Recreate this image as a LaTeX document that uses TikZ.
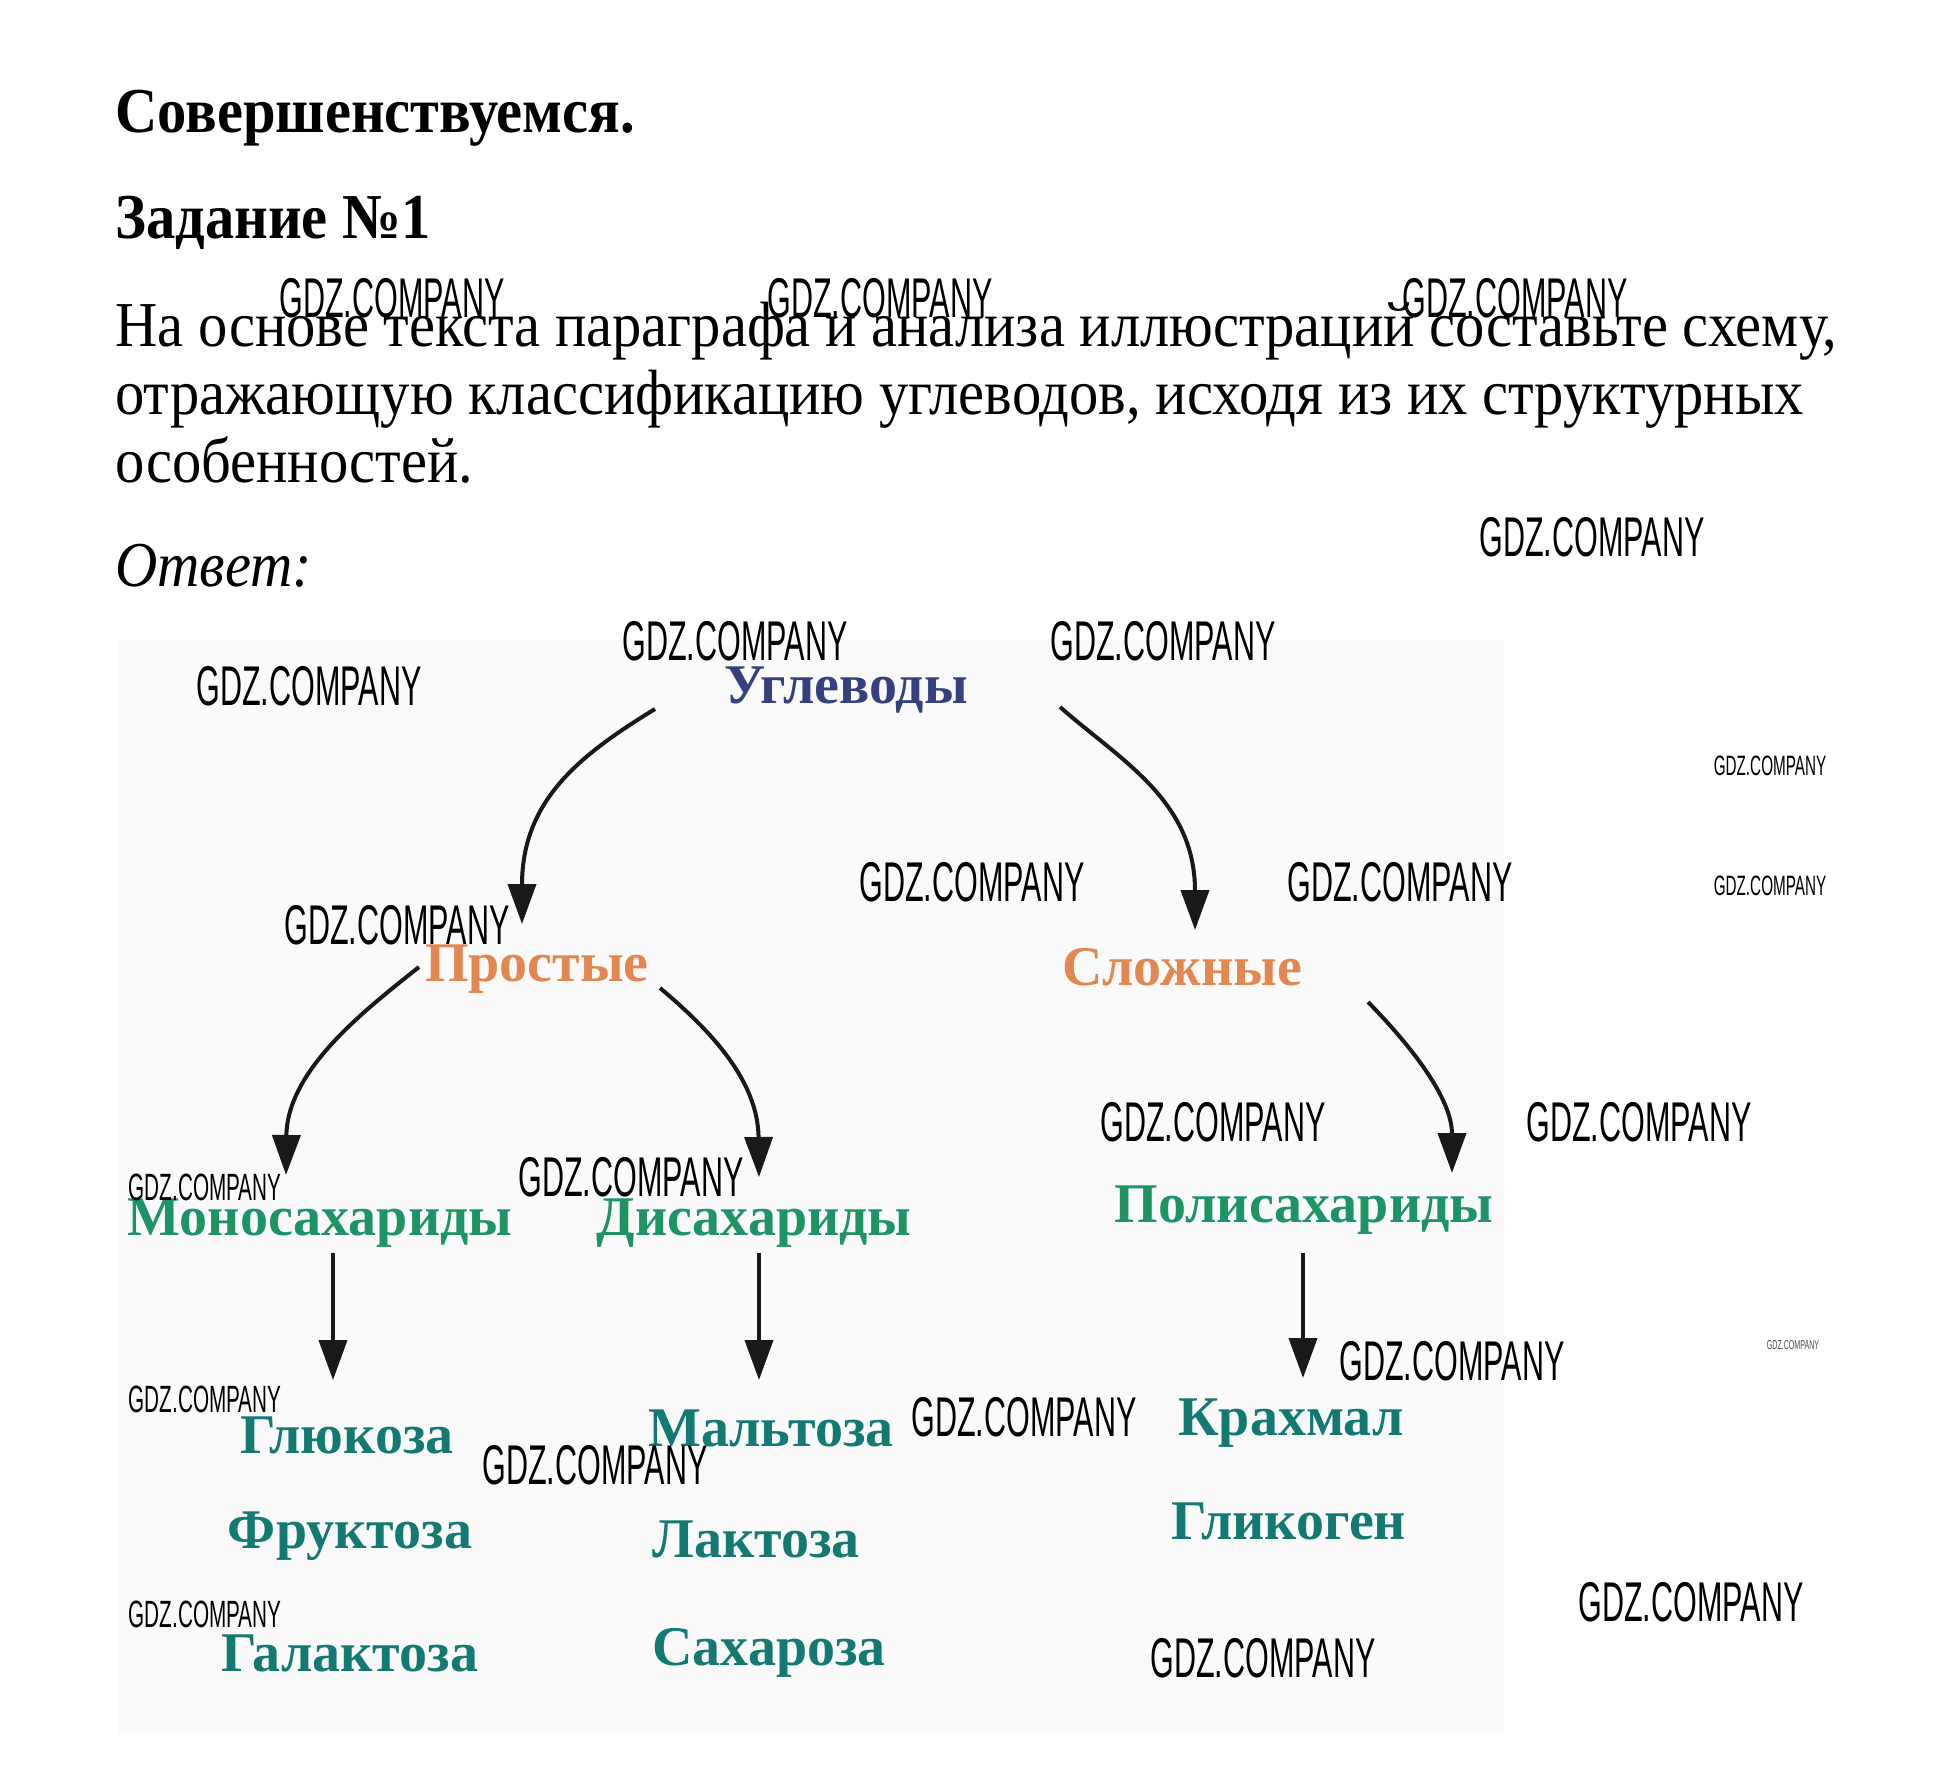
\documentclass[tikz,border=0pt]{standalone}
\usepackage{fontspec}
\setmainfont{Liberation Serif}
\newfontfamily\bodyfont[FakeStretch=0.915]{Liberation Serif}
\newfontfamily\diagfont{Liberation Serif}
\newfontfamily\wmfont[FakeStretch=0.545]{Liberation Sans}
\usetikzlibrary{arrows.meta}
\definecolor{cblue}{HTML}{36407F}
\definecolor{corange}{HTML}{E2874F}
\definecolor{cgreen}{HTML}{1E9465}
\definecolor{cteal}{HTML}{137A73}
\definecolor{diagbg}{HTML}{FAFAFA}
\tikzset{
  hdr/.style={anchor=base west, inner sep=0pt, font=\bodyfont\bfseries\fontsize{32}{36}\selectfont},
  para/.style={anchor=base west, inner sep=0pt, font=\bodyfont\fontsize{32}{36}\selectfont},
  dnode/.style={inner sep=0pt, font=\diagfont\bfseries\fontsize{28}{32}\selectfont},
  lvl0/.style={dnode, text=cblue},
  lvl1/.style={dnode, text=corange},
  lvl2/.style={dnode, text=cgreen},
  lvl3/.style={dnode, text=cteal},
  arr/.style={line width=2pt, draw=black!90, -{Triangle[length=20pt,width=14pt]}},
  wmL/.style={inner sep=0pt, font=\wmfont\fontsize{28}{30}\selectfont},
  wmM/.style={inner sep=0pt, font=\wmfont\fontsize{19}{21}\selectfont},
  wmS/.style={inner sep=0pt, font=\wmfont\fontsize{14}{16}\selectfont},
  wmT/.style={inner sep=0pt, font=\wmfont\fontsize{6.5}{7}\selectfont, text=black!70},
}
\begin{document}
\begin{tikzpicture}[x=0.5pt,y=0.5pt]
\useasboundingbox (0,0) rectangle (1944,-1765);
\fill[white] (0,0) rectangle (1944,-1765);
\fill[diagbg] (118,-640) rectangle (1504,-1735);

% header texts
\node[hdr] (title) at (115,-133) {Совершенствуемся.};
\node[hdr] (task) at (115,-239) {Задание №1};
\node[para] (p1) at (115,-347) {На основе текста параграфа и анализа иллюстраций составьте схему,};
\node[para] (p2) at (115,-415) {отражающую классификацию углеводов, исходя из их структурных};
\node[para] (p3) at (115,-482) {особенностей.};
\node[para, font=\bodyfont\itshape\fontsize{32}{36}\selectfont] (ans) at (115,-586) {Ответ:};

% diagram nodes
\node[lvl0] (ugl) at (846,-690) {Углеводы};
\node[lvl1] (pro) at (537,-969) {Простые};
\node[lvl1] (slo) at (1182,-967) {Сложные};
\node[lvl2] (mono) at (320,-1223) {Моносахариды};
\node[lvl2] (di) at (754,-1223) {Дисахариды};
\node[lvl2] (poli) at (1304,-1210) {Полисахариды};
\node[lvl3] (glu) at (347,-1435) {Глюкоза};
\node[lvl3] (fru) at (350,-1536) {Фруктоза};
\node[lvl3] (gal) at (350,-1653) {Галактоза};
\node[lvl3] (mal) at (771,-1428) {Мальтоза};
\node[lvl3] (lak) at (756,-1539) {Лактоза};
\node[lvl3] (sah) at (769,-1653) {Сахароза};
\node[lvl3] (kra) at (1291,-1423) {Крахмал};
\node[lvl3] (gli) at (1289,-1521) {Гликоген};

% connectors
\draw[arr] ([shift={(-191,-19)}]ugl.center) .. controls +(-75,-46) and +(0,124) .. ([shift={(-15,45)}]pro.center);
\draw[arr] ([shift={(214,-17)}]ugl.center) .. controls +(60,-53) and +(0,130) .. ([shift={(13,37)}]slo.center);
\draw[arr] ([shift={(-118,2)}]pro.center) .. controls +(-54,-43) and +(1,105) .. ([shift={(-34,48)}]mono.center);
\draw[arr] ([shift={(123,-19)}]pro.center) .. controls +(50,-42) and +(-1,97) .. ([shift={(5,46)}]di.center);
\draw[arr] ([shift={(186,-35)}]slo.center) .. controls +(47,-48) and +(0,73) .. ([shift={(148,37)}]poli.center);
\draw[arr] ([shift={(13,-30)}]mono.center) -- ([shift={(-14,55)}]glu.center);
\draw[arr] ([shift={(5,-30)}]di.center) -- ([shift={(-12,48)}]mal.center);
\draw[arr] ([shift={(-1,-43)}]poli.center) -- ([shift={(12,45)}]kra.center);

% watermarks
\node[wmL] (w1) at (392,-298) {GDZ.COMPANY};
\node[wmL] (w2) at (880,-298) {GDZ.COMPANY};
\node[wmL] (w3) at (1515,-298) {GDZ.COMPANY};
\node[wmL] (w4) at (1592,-537) {GDZ.COMPANY};
\node[wmL] (w5) at (735,-641) {GDZ.COMPANY};
\node[wmL] (w6) at (1163,-641) {GDZ.COMPANY};
\node[wmL] (w7) at (309,-686) {GDZ.COMPANY};
\node[wmS] (w8) at (1770,-766) {GDZ.COMPANY};
\node[wmL] (w9) at (972,-882) {GDZ.COMPANY};
\node[wmL] (w10) at (1400,-882) {GDZ.COMPANY};
\node[wmS] (w11) at (1770,-886) {GDZ.COMPANY};
\node[wmL] (w12) at (397,-925) {GDZ.COMPANY};
\node[wmM] (w13) at (205,-1187) {GDZ.COMPANY};
\node[wmL] (w14) at (631,-1177) {GDZ.COMPANY};
\node[wmL] (w15) at (1213,-1122) {GDZ.COMPANY};
\node[wmL] (w16) at (1639,-1122) {GDZ.COMPANY};
\node[wmL] (w17) at (1452,-1361) {GDZ.COMPANY};
\node[wmT] (w18) at (1793,-1345) {GDZ.COMPANY};
\node[wmM] (w19) at (205,-1399) {GDZ.COMPANY};
\node[wmL] (w20) at (1024,-1417) {GDZ.COMPANY};
\node[wmL] (w21) at (595,-1465) {GDZ.COMPANY};
\node[wmM] (w22) at (205,-1614) {GDZ.COMPANY};
\node[wmL] (w23) at (1691,-1602) {GDZ.COMPANY};
\node[wmL] (w24) at (1263,-1658) {GDZ.COMPANY};
\end{tikzpicture}
\end{document}
